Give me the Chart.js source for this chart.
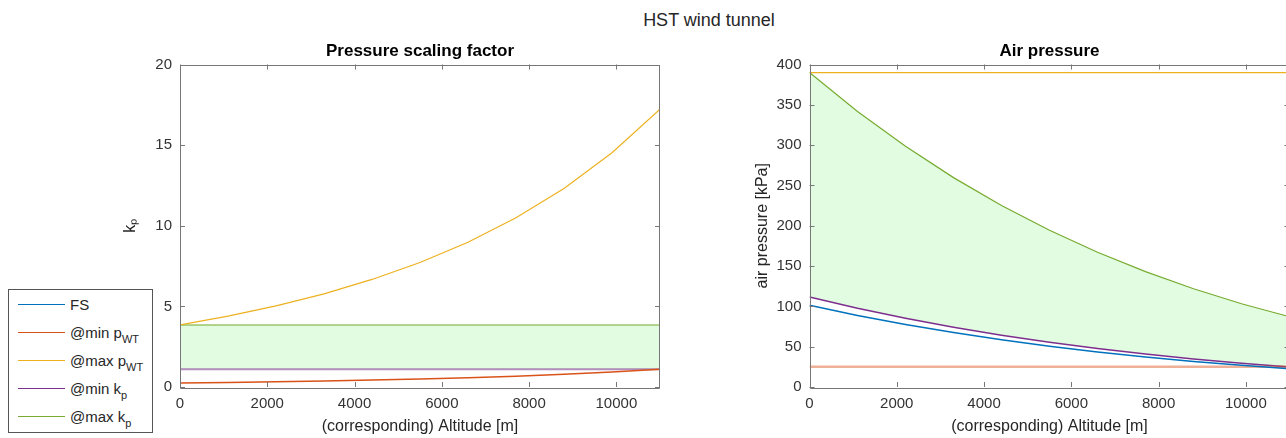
<!DOCTYPE html>
<html>
<head>
<meta charset="utf-8">
<script src="https://cdn.jsdelivr.net/npm/chart.js@4.4.1/dist/chart.umd.min.js"></script>
<style>
  body { margin: 0; width: 1286px; height: 438px; overflow: hidden; position: relative; background: #fff;
         font-family: "Liberation Sans", Arial, sans-serif; }
  canvas { position: absolute; top: 0; }
  #suptitle { position: absolute; left: 559px; width: 300px; top: 10.7px; line-height: 18px;
              text-align: center; font-size: 18px; color: #262626; }
  #legend { position: absolute; left: 8px; top: 289px; width: 145px; height: 144px; box-sizing: border-box;
            border: 1px solid #555; background: #fff; }
  .row { position: absolute; left: 9px; height: 20px; display: flex; align-items: center;
         font-size: 15px; color: #262626; white-space: nowrap; }
  .row span.sw { display: inline-block; width: 47px; height: 0; border-top: 1.5px solid; margin-right: 5px; }
  .row sub { font-size: 11px; vertical-align: -5px; line-height: 0; }
</style>
</head>
<body>
<div id="suptitle">HST wind tunnel</div>
<canvas id="kpChart" width="700" height="438" style="left:0"></canvas>
<canvas id="pChart" width="640" height="438" style="left:680px"></canvas>
<div id="legend"></div>
<script>
// altitude samples [m]
const altitude = [0, 1100, 2200, 3300, 4400, 5500, 6600, 7700, 8800, 9900, 11000];

// pressure scaling factor k_p
const kpMinPwt = [0.25, 0.28, 0.32, 0.37, 0.43, 0.49, 0.58, 0.67, 0.79, 0.93, 1.10];
const kpMaxPwt = [3.85, 4.39, 5.03, 5.78, 6.67, 7.72, 8.98, 10.49, 12.31, 14.53, 17.23];
const kpMinKp  = [1.10, 1.10, 1.10, 1.10, 1.10, 1.10, 1.10, 1.10, 1.10, 1.10, 1.10];
const kpMaxKp  = [3.85, 3.85, 3.85, 3.85, 3.85, 3.85, 3.85, 3.85, 3.85, 3.85, 3.85];

// air pressure [kPa]
const pFS     = [101.3, 88.8, 77.5, 67.5, 58.5, 50.5, 43.4, 37.2, 31.7, 26.9, 22.6];
const pMinPwt = [25, 25, 25, 25, 25, 25, 25, 25, 25, 25, 25];
const pMaxPwt = [390, 390, 390, 390, 390, 390, 390, 390, 390, 390, 390];
const pMinKp  = [111.5, 97.7, 85.3, 74.2, 64.3, 55.6, 47.8, 40.9, 34.8, 29.5, 24.9];
const pMaxKp  = [390, 341.8, 298.5, 259.7, 225.1, 194.4, 167.2, 143.1, 121.9, 103.3, 87.1];

const xTicks = [0, 2000, 4000, 6000, 8000, 10000];

const BLUE = '#0072BD', RED = '#D95319', YELLOW = '#EDB120', PURPLE = '#7E2F8E', GREEN = '#77AC30';
const FILL = '#e1fce1';

Chart.defaults.font.family = '"Liberation Sans", Arial, sans-serif';
Chart.defaults.animation = false;

const pts = arr => arr.map((v, i) => ({ x: altitude[i], y: v }));

function line(values, color, width, extra) {
  return Object.assign({
    data: pts(values), borderColor: color, borderWidth: width,
    pointRadius: 0, tension: 0, fill: false
  }, extra || {});
}

// box + inward ticks on all four sides, like the original axes
const frame = {
  id: 'frame',
  afterDatasetsDraw(chart) {
    const { ctx, chartArea: a, scales } = chart;
    ctx.save();
    ctx.strokeStyle = '#777';
    ctx.lineWidth = 1;
    ctx.beginPath();
    ctx.rect(Math.round(a.left) + 0.5, Math.round(a.top) + 0.5,
             Math.round(a.right - a.left) - 1, Math.round(a.bottom - a.top));
    const tl = 5;
    scales.x.ticks.forEach(t => {
      const px = Math.round(scales.x.getPixelForValue(t.value)) + 0.5;
      ctx.moveTo(px, a.bottom); ctx.lineTo(px, a.bottom - tl);
      ctx.moveTo(px, a.top); ctx.lineTo(px, a.top + tl);
    });
    scales.y.ticks.forEach(t => {
      const py = Math.round(scales.y.getPixelForValue(t.value)) + 0.5;
      ctx.moveTo(a.left, py); ctx.lineTo(a.left + tl, py);
      ctx.moveTo(a.right, py); ctx.lineTo(a.right - tl, py);
    });
    ctx.stroke();
    ctx.restore();
  }
};

function makeOptions(o) {
  return {
    responsive: false,
    layout: { padding: { left: 0, right: o.padRight, top: 0, bottom: 0 } },
    plugins: {
      legend: { display: false },
      tooltip: { enabled: false },
      filler: { drawTime: 'beforeDatasetsDraw' },
      title: {
        display: true, text: o.title, fullSize: false, color: '#000',
        font: { size: 17, weight: 'bold' }, padding: { top: 41.3, bottom: 2.8 }
      }
    },
    scales: {
      x: {
        type: 'linear', min: 0, max: 11000,
        grid: { display: false, drawTicks: false }, border: { display: false },
        afterBuildTicks: s => { s.ticks = xTicks.map(v => ({ value: v })); },
        ticks: { padding: 8, color: '#333', font: { size: 15 }, autoSkip: false, maxRotation: 0,
                 callback: v => String(v) },
        title: { display: true, text: '(corresponding) Altitude [m]', color: '#262626',
                 font: { size: 16 }, padding: { top: 0, bottom: 1.4 } },
        afterFit: s => { s.height = 51; }
      },
      y: {
        min: 0, max: o.yMax,
        grid: { display: false, drawTicks: false }, border: { display: false },
        ticks: { stepSize: o.yStep, padding: 8, color: '#333', font: { size: 15 } },
        title: { display: true, text: o.yTitle, color: '#262626',
                 font: { size: 16 }, padding: { top: o.yTitlePad, bottom: 0 } },
        afterFit: s => { s.width = o.yWidth; }
      }
    }
  };
}

new Chart(document.getElementById('kpChart'), {
  type: 'line',
  data: {
    datasets: [
      line(kpMinPwt, RED, 1.5),
      line(kpMaxPwt, YELLOW, 1.2),
      line(kpMinKp, 'rgba(126,47,142,0.55)', 2),
      line(kpMaxKp, 'rgba(119,172,48,0.7)', 1.5, { fill: '-1', backgroundColor: FILL })
    ]
  },
  options: makeOptions({ title: 'Pressure scaling factor', padRight: 40, yMax: 20, yStep: 5,
                         yTitle: 'kₚ', yTitlePad: 121.4, yWidth: 180 }),
  plugins: [frame]
});

new Chart(document.getElementById('pChart'), {
  type: 'line',
  data: {
    datasets: [
      line(pFS, BLUE, 1.5),
      line(pMinPwt, 'rgba(217,83,25,0.45)', 2.5),
      line(pMaxPwt, YELLOW, 1.2),
      line(pMinKp, PURPLE, 1.5),
      line(pMaxKp, GREEN, 1.2, { fill: '-1', backgroundColor: FILL })
    ]
  },
  options: makeOptions({ title: 'Air pressure', padRight: 30.5, yMax: 400, yStep: 50,
                         yTitle: 'air pressure [kPa]', yTitlePad: 73.4, yWidth: 129.5 }),
  plugins: [frame]
});

// legend with subscripts
const legendItems = [
  { html: 'FS', color: BLUE },
  { html: '@min p<sub>WT</sub>', color: RED },
  { html: '@max p<sub>WT</sub>', color: YELLOW },
  { html: '@min k<sub>p</sub>', color: PURPLE },
  { html: '@max k<sub>p</sub>', color: GREEN }
];
const legend = document.getElementById('legend');
legendItems.forEach((it, i) => {
  const row = document.createElement('div');
  row.className = 'row';
  row.style.top = (4 + i * 28) + 'px';
  row.innerHTML = '<span class="sw" style="border-color:' + it.color + '"></span><span>' + it.html + '</span>';
  legend.appendChild(row);
});
</script>
</body>
</html>
